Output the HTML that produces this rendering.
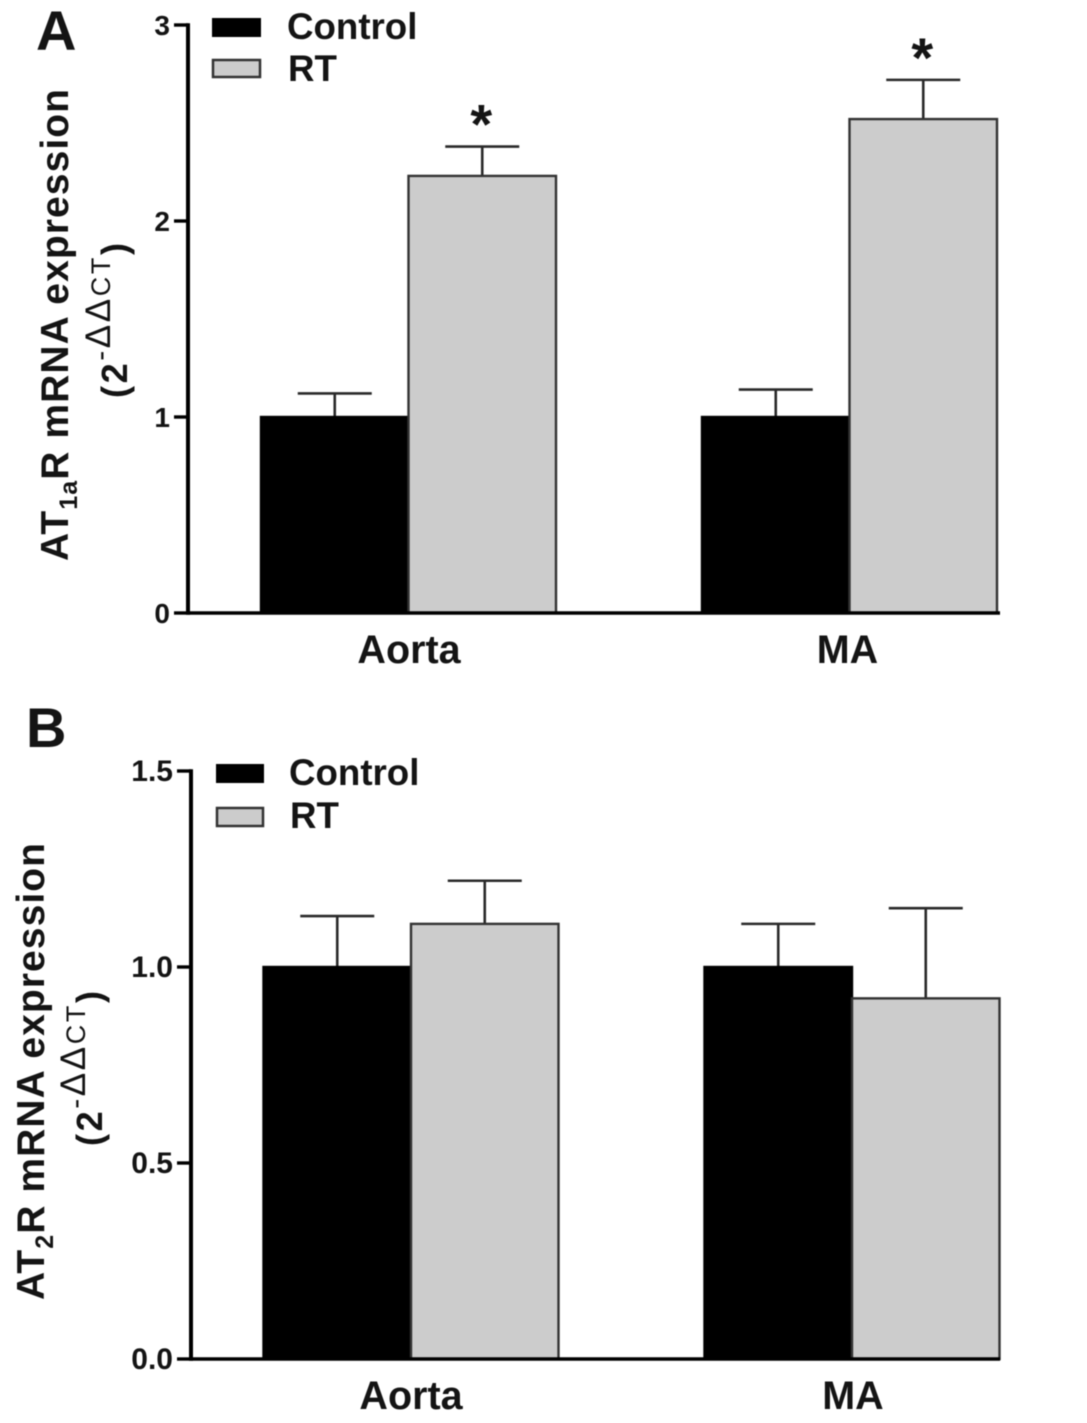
<!DOCTYPE html>
<html lang="en">
<head>
<meta charset="utf-8">
<title>AT1aR and AT2R mRNA expression</title>
<style>
html,body{margin:0;padding:0;background:#fff;width:1087px;height:1423px;overflow:hidden}
svg{display:block;filter:blur(.55px)}
text{font-family:"Liberation Sans",sans-serif;font-weight:700;fill:#141414}
</style>
</head>
<body>
<svg id="figure" xmlns="http://www.w3.org/2000/svg" width="1087" height="1423" viewBox="0 0 1087 1423">
  <rect width="1087" height="1423" fill="#fff"/>

  <text x="36" y="50" font-size="56">A</text>
  <text x="26" y="747" font-size="56">B</text>

  <g>
    <text transform="translate(68,561) rotate(-90)" font-size="39" textLength="472" lengthAdjust="spacing">AT<tspan font-size="25" dy="9">1a</tspan><tspan dy="-9">R mRNA expression</tspan></text>
    <text transform="translate(127,398) rotate(-90)" font-size="36" textLength="155" lengthAdjust="spacing">(2<tspan font-size="30" font-weight="400" dy="-17">-</tspan><tspan font-size="35" font-weight="400">ΔΔ</tspan><tspan font-size="27" font-weight="400">CT</tspan><tspan dy="17">)</tspan></text>
  </g>
  <g>
    <text transform="translate(44,1300) rotate(-90)" font-size="39" textLength="457" lengthAdjust="spacing">AT<tspan font-size="25" dy="9">2</tspan><tspan dy="-9">R mRNA expression</tspan></text>
    <text transform="translate(102,1146) rotate(-90)" font-size="36" textLength="155" lengthAdjust="spacing">(2<tspan font-size="30" font-weight="400" dy="-17">-</tspan><tspan font-size="35" font-weight="400">ΔΔ</tspan><tspan font-size="27" font-weight="400">CT</tspan><tspan dy="17">)</tspan></text>
  </g>

  <g id="panel-a"></g>
  <g id="panel-b"></g>

  <g>
    <g>
      <rect x="212" y="18" width="49" height="19" fill="#000"/>
      <text x="287" y="39" font-size="36.7">Control</text>
    </g>
    <g>
      <rect x="213" y="60" width="47" height="17" fill="#ccc" stroke="#333" stroke-width="2.5"/>
      <text x="288" y="81" font-size="36.7">RT</text>
    </g>
  </g>
  <g>
    <g>
      <rect x="216" y="764" width="48" height="19" fill="#000"/>
      <text x="289" y="785" font-size="36.7">Control</text>
    </g>
    <g>
      <rect x="217" y="808" width="46" height="18" fill="#ccc" stroke="#333" stroke-width="2.5"/>
      <text x="290" y="828" font-size="36.7">RT</text>
    </g>
  </g>
</svg>

<script>
// Shared categories
const categories = ['Aorta', 'MA'];

// Panel A data
const aControlValues = [1.00, 1.00];
const aControlErrors = [0.12, 0.14];
const aRtValues = [2.23, 2.52];
const aRtErrors = [0.15, 0.20];
const aSignificant = [true, true];
const aTickValues = [0, 1, 2, 3];
const aTickLabels = ['0', '1', '2', '3'];

// Panel B data
const bControlValues = [1.00, 1.00];
const bControlErrors = [0.13, 0.11];
const bRtValues = [1.11, 0.92];
const bRtErrors = [0.11, 0.23];
const bSignificant = [false, false];
const bTickValues = [0, 0.5, 1.0, 1.5];
const bTickLabels = ['0.0', '0.5', '1.0', '1.5'];

const SVG_NS = 'http://www.w3.org/2000/svg';

function make(parent, tag, attrs, text) {
  const node = document.createElementNS(SVG_NS, tag);
  for (const key in attrs) node.setAttribute(key, attrs[key]);
  if (text !== undefined) node.textContent = text;
  parent.appendChild(node);
  return node;
}

function drawPanel(prefix, root, layout, controlValues, controlErrors, rtValues, rtErrors, significant, tickValues, tickLabels) {
  const yScale = v => layout.y0 - (v / layout.yMax) * (layout.y0 - layout.yTop);
  const groupCenter = i => layout.firstCenter + i * layout.groupStep;
  const barWidth = layout.barWidth;
  const capHalf = layout.capHalf;

  categories.forEach((cat, i) => {
    const center = groupCenter(i);
    const series = [
      { key: 'control', value: controlValues[i], err: controlErrors[i], left: center - barWidth, fill: '#000', stroke: '#000' },
      { key: 'rt', value: rtValues[i], err: rtErrors[i], left: center, fill: '#ccc', stroke: '#333' }
    ];
    series.forEach(s => {
      const top = yScale(s.value);
      const tip = yScale(s.value + s.err);
      const mid = s.left + barWidth / 2;

      const stem = make(root, 'line', { x1: mid, x2: mid, y1: top, y2: tip, stroke: '#2a2a2a', 'stroke-width': 2.6 });
      
      

      const cap = make(root, 'line', { x1: mid - capHalf, x2: mid + capHalf, y1: tip, y2: tip, stroke: '#2a2a2a', 'stroke-width': 2.6 });
      
      

      const bar = make(root, 'rect', { x: s.left, y: top, width: barWidth, height: layout.y0 - top, fill: s.fill, stroke: s.stroke, 'stroke-width': 2.4 });
      
      
    });

    if (significant[i]) {
      const mid = center + barWidth / 2;
      const star = make(root, 'text', { x: mid - 1, y: yScale(rtValues[i] + rtErrors[i]) - 3, 'font-size': 56, 'text-anchor': 'middle' }, '*');
      
      
    }

    const label = make(root, 'text', { x: center + layout.labelShift[i], y: layout.labelY, 'font-size': 39.5, 'text-anchor': 'middle' }, cat);
    
    
  });

  const yAxis = make(root, 'line', { x1: layout.axisX, x2: layout.axisX, y1: yScale(layout.yMax) - 1.75, y2: layout.y0 + 1.75, stroke: '#000', 'stroke-width': 4 });
  
  

  const xAxis = make(root, 'line', { x1: layout.axisX, x2: layout.axisEnd, y1: layout.y0, y2: layout.y0, stroke: '#000', 'stroke-width': 3.6 });
  
  

  tickValues.forEach((t, i) => {
    const y = yScale(t);
    const tick = make(root, 'line', { x1: layout.axisX - 14, x2: layout.axisX, y1: y, y2: y, stroke: '#000', 'stroke-width': 3.4 });
    
    

    const label = make(root, 'text', { x: layout.axisX - 18, y: y + 10, 'font-size': layout.tickFont, 'text-anchor': 'end' }, tickLabels[i]);
    
    
  });
}

drawPanel('panel-a', document.getElementById('panel-a'),
  { y0: 613, yTop: 25, yMax: 3, firstCenter: 408.5, groupStep: 441, barWidth: 147.5, capHalf: 37, axisX: 188, axisEnd: 1000, labelY: 663, labelShift: [0.5, -2], tickFont: 28 },
  aControlValues, aControlErrors, aRtValues, aRtErrors, aSignificant, aTickValues, aTickLabels);

drawPanel('panel-b', document.getElementById('panel-b'),
  { y0: 1359, yTop: 771, yMax: 1.5, firstCenter: 411, groupStep: 441, barWidth: 147.5, capHalf: 37, axisX: 191, axisEnd: 1000, labelY: 1409, labelShift: [0, 1], tickFont: 30 },
  bControlValues, bControlErrors, bRtValues, bRtErrors, bSignificant, bTickValues, bTickLabels);
</script>
</body>
</html>
